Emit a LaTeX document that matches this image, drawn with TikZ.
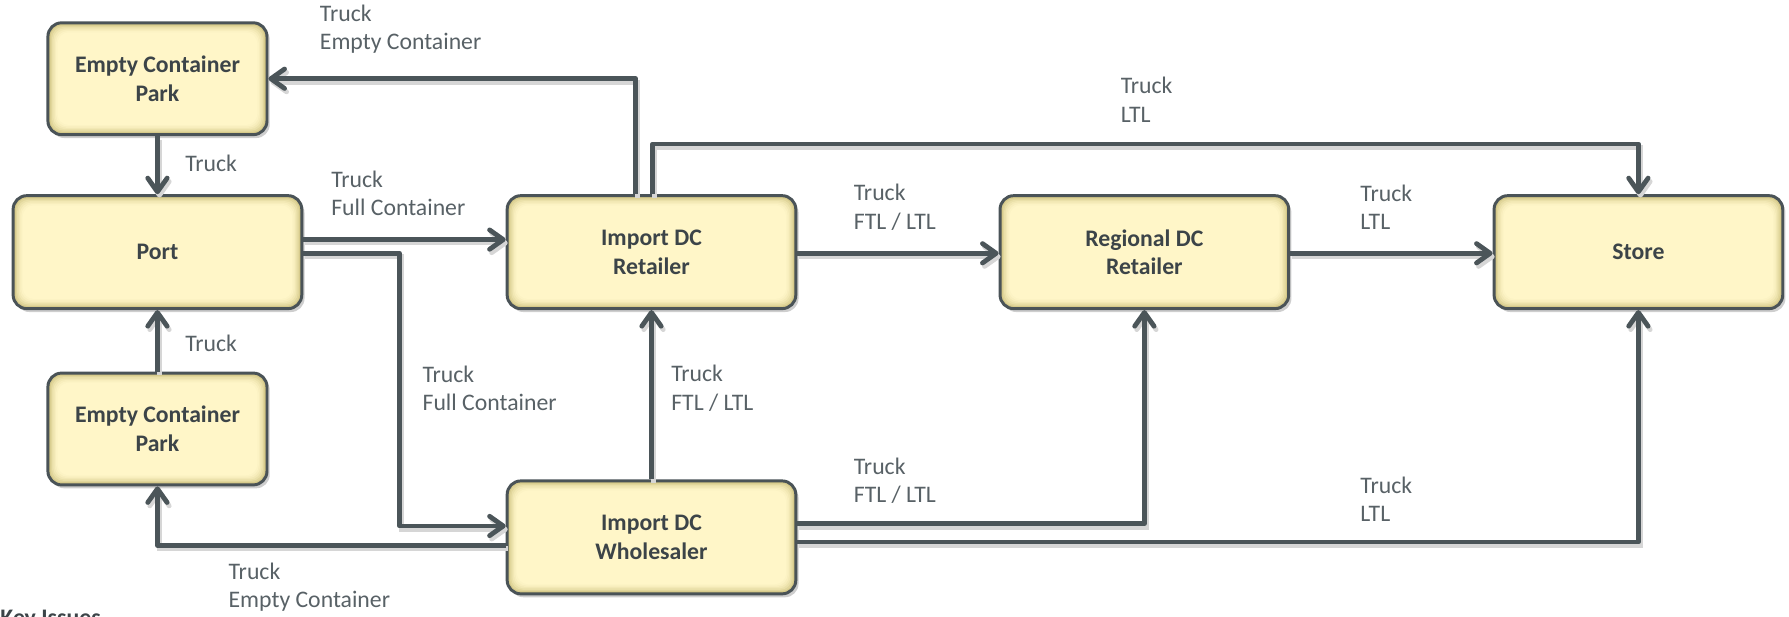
\documentclass[tikz,border=0pt]{standalone}
\usepackage{fontspec}
\setmainfont{Carlito}
\usetikzlibrary{arrows.meta,calc,shadows}
\definecolor{boxline}{RGB}{74,83,87}
\definecolor{arrowcol}{RGB}{75,85,89}
\definecolor{boxtext}{RGB}{60,68,72}
\definecolor{labeltext}{RGB}{88,97,102}
\definecolor{boxin}{RGB}{255,246,200}
\definecolor{boxout}{RGB}{200,188,118}
\tikzset{
  flowbox/.style={rounded corners=6pt, draw=boxline, line width=1.3pt,
    align=center, text=boxtext, inner sep=2pt,
    font=\bfseries\fontsize{10.4}{12.5}\selectfont,
    drop shadow={shadow xshift=1.2pt, shadow yshift=-1.5pt, opacity=0.35, fill=black!55},
    path picture={
      \foreach \i/\c in {0/0,1/25,2/45,3/62,4/76,5/87,6/95,7/100}{
        \fill[boxin!\c!boxout, rounded corners=5pt]
          ($(path picture bounding box.south west)+(\i*0.6pt,\i*0.6pt)$) rectangle
          ($(path picture bounding box.north east)-(\i*0.6pt,\i*0.6pt)$);
      }
    }},
  smallbox/.style={flowbox, minimum width=96pt, minimum height=49pt},
  bigbox/.style={flowbox, minimum width=126.5pt, minimum height=49.5pt},
  conn/.style={draw=arrowcol, line width=2.1pt, line join=round,
    -{Straight Barb[round, length=6pt, width=8.5pt]},
    preaction={draw=black!16, line width=2.1pt, transform canvas={shift={(0.9pt,-1.5pt)}}}},
  lbl/.style={align=left, inner sep=0pt, anchor=west, text=labeltext,
    font=\fontsize{10.4}{12.5}\selectfont}
}
\begin{document}
\begin{tikzpicture}[x=0.5pt,y=-0.5pt]
\useasboundingbox (0,0) rectangle (1568,540);
% nodes
\node[smallbox] (ECP1) at (138,69) {Empty Container\\Park};
\node[bigbox] (Port) at (138,221) {Port};
\node[smallbox] (ECP2) at (138,376) {Empty Container\\Park};
\node[bigbox] (IDR) at (571,221) {Import DC\\Retailer};
\node[bigbox] (IDW) at (571,471) {Import DC\\Wholesaler};
\node[bigbox] (RDR) at (1003,221) {Regional DC\\Retailer};
\node[bigbox] (Store) at (1436,221) {Store};
% connectors
\draw[conn] ($(IDR.north)+(-14,0)$) |- (ECP1.east);
\draw[conn] ($(IDR.north)+(1,0)$) -- ++(0,-44) -| (Store.north);
\draw[conn] (ECP1.south) -- (Port.north);
\draw[conn] (ECP2.north) -- (Port.south);
\draw[conn] ($(Port.east)+(0,-11)$) -- ($(IDR.west)+(0,-11)$);
\draw[conn] ($(Port.east)+(0,1)$) -| ($(IDW.west)+(-93,-10)$) -- ($(IDW.west)+(0,-10)$);
\draw[conn] ($(IDW.west)+(0,7)$) -| (ECP2.south);
\draw[conn] (IDW.north) -- (IDR.south);
\draw[conn] ($(IDR.east)+(0,1)$) -- ($(RDR.west)+(0,1)$);
\draw[conn] ($(RDR.east)+(0,1)$) -- ($(Store.west)+(0,1)$);
\draw[conn] ($(IDW.east)+(0,-12)$) -| (RDR.south);
\draw[conn] ($(IDW.east)+(0,4)$) -| (Store.south);
% labels
\node[lbl] (l1) at (280,25.5) {Truck\\Empty Container};
\node[lbl] (l2) at (982,87.5) {Truck\\LTL};
\node[lbl] (l3) at (162,143) {Truck};
\node[lbl] (l4) at (290,169.5) {Truck\\Full Container};
\node[lbl] (l5) at (748,181.5) {Truck\\FTL / LTL};
\node[lbl] (l6) at (1192,181.5) {Truck\\LTL};
\node[lbl] (l7) at (162,301) {Truck};
\node[lbl] (l8) at (370,340.5) {Truck\\Full Container};
\node[lbl] (l9) at (588,340.5) {Truck\\FTL / LTL};
\node[lbl] (l10) at (748,421.5) {Truck\\FTL / LTL};
\node[lbl] (l11) at (1192,437.5) {Truck\\LTL};
\node[lbl] (l12) at (200,514.5) {Truck\\Empty Container};
\begin{scope}
\clip (0,0) rectangle (1568,540);
\node[anchor=base west, inner sep=0pt, text=boxtext, font=\bfseries\fontsize{10.4}{12.5}\selectfont] (key) at (0,548) {Key Issues};
\end{scope}
\end{tikzpicture}
\end{document}
